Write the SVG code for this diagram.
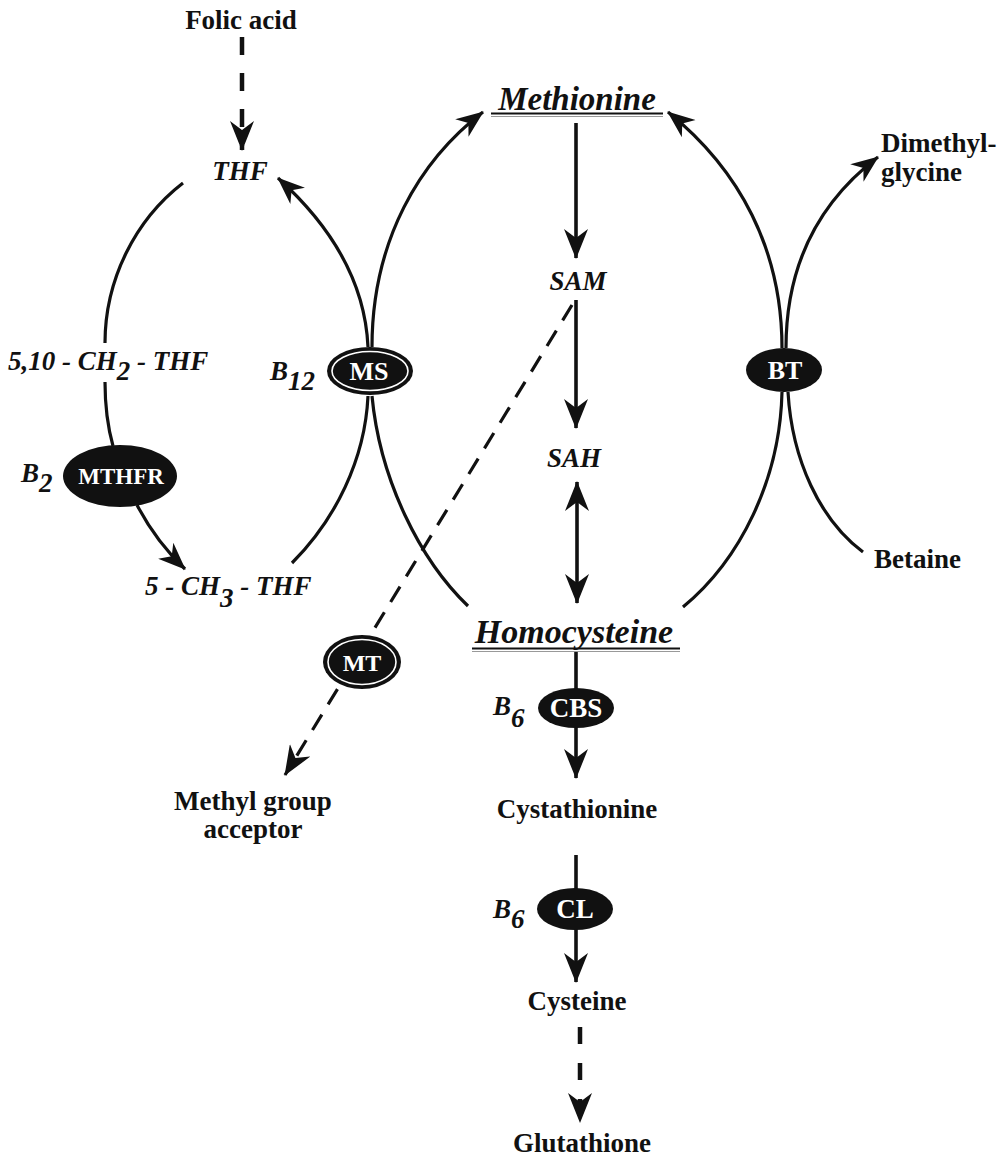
<svg xmlns="http://www.w3.org/2000/svg" width="1004" height="1157" viewBox="0 0 1004 1157">
<defs>
<style>
.t{font-family:"Liberation Serif","Times New Roman",serif;font-weight:bold;fill:#111;font-size:27px}
.i{font-style:italic}
.big{font-size:33px}
.big2{font-size:34px}
.e{font-family:"Liberation Serif","Times New Roman",serif;font-weight:bold;fill:#fff;text-anchor:middle}
.c{fill:none;stroke:#111;stroke-width:3.2}
.v{fill:none;stroke:#111;stroke-width:3.6}
.d{fill:none;stroke:#111;stroke-width:4.5}
.ell{fill:#111}
.ring{fill:none;stroke:#fff;stroke-width:1.6}
</style>
<marker id="ah" viewBox="0 0 30 24" refX="29" refY="12" markerWidth="30" markerHeight="24" markerUnits="userSpaceOnUse" orient="auto-start-reverse">
<path d="M0,0 L30,12 L0,24 L9,12 Z" fill="#111"/>
</marker>
<marker id="ahs" viewBox="0 0 30 24" refX="29" refY="12" markerWidth="28" markerHeight="22" markerUnits="userSpaceOnUse" orient="auto-start-reverse">
<path d="M0,0 L30,12 L0,24 L9,12 Z" fill="#111"/>
</marker>
</defs>
<rect width="1004" height="1157" fill="#fff"/>

<g id="connectors">
<path class="d" d="M242,37 L242,150" stroke-dasharray="18 18" marker-end="url(#ah)"/>
<path class="c" d="M183,183 C135,220 105,280 105,343"/>
<path class="c" d="M105,382 C105,410 108,428 113,446"/>
<path class="c" d="M137,505 C150,530 165,550 185,569" marker-end="url(#ahs)"/>
<path class="c" d="M368,347 C365,280 330,225 278,178" marker-end="url(#ahs)"/>
<path class="c" d="M372,347 C372,240 420,160 483,112" marker-end="url(#ahs)"/>
<path class="c" d="M368,396 C365,460 335,520 292,563"/>
<path class="c" d="M372,396 C380,480 420,560 468,606"/>
<path class="c" d="M782,348 C782,250 740,170 668,112" marker-end="url(#ahs)"/>
<path class="c" d="M786,348 C786,270 815,205 878,157" marker-end="url(#ahs)"/>
<path class="c" d="M782,392 C780,480 740,560 683,607"/>
<path class="c" d="M788,392 C792,460 820,520 863,552"/>
<path class="v" d="M576,123 L576,258" marker-end="url(#ah)"/>
<path class="v" d="M576,300 L576,428" marker-end="url(#ah)"/>
<path class="v" d="M577,482 L577,603" marker-start="url(#ah)" marker-end="url(#ah)"/>
<path class="v" d="M576,652 L576,692"/>
<path class="v" d="M576,724 L576,778" marker-end="url(#ah)"/>
<path class="v" d="M576,855 L576,892"/>
<path class="v" d="M576,926 L576,982" marker-end="url(#ah)"/>
<path class="d" d="M580,1027 L580,1122" stroke-dasharray="17 19" marker-end="url(#ah)"/>
<path class="c" d="M572,305 L285,775" stroke-dasharray="18 12" stroke-width="3.6" marker-end="url(#ah)"/>
</g>

<g id="folic-acid"><text class="t" x="241" y="29" text-anchor="middle">Folic acid</text></g>
<g id="thf"><text class="t i" x="240" y="180" text-anchor="middle">THF</text></g>
<g id="methionine">
<text class="t i big" x="577" y="110" text-anchor="middle">Methionine</text>
<line x1="491" y1="113.5" x2="663" y2="113.5" stroke="#111" stroke-width="2"/>
<line x1="491" y1="116.5" x2="663" y2="116.5" stroke="#999" stroke-width="1"/>
</g>
<g id="sam"><text class="t i" x="578" y="290" text-anchor="middle">SAM</text></g>
<g id="sah"><text class="t i" x="574" y="467" text-anchor="middle">SAH</text></g>
<g id="homocysteine">
<text class="t i big2" x="574" y="643" text-anchor="middle">Homocysteine</text>
<line x1="472" y1="648.5" x2="680" y2="648.5" stroke="#111" stroke-width="2"/>
<line x1="472" y1="651.5" x2="680" y2="651.5" stroke="#999" stroke-width="1"/>
</g>
<g id="dimethylglycine">
<text class="t" x="881" y="152">Dimethyl-</text>
<text class="t" x="881" y="181">glycine</text>
</g>
<g id="betaine"><text class="t" x="874" y="568">Betaine</text></g>
<g id="cystathionine"><text class="t" x="577" y="818" text-anchor="middle">Cystathionine</text></g>
<g id="cysteine"><text class="t" x="577" y="1010" text-anchor="middle">Cysteine</text></g>
<g id="glutathione"><text class="t" x="582" y="1152" text-anchor="middle">Glutathione</text></g>
<g id="methyl-acceptor">
<text class="t" x="253" y="810" text-anchor="middle">Methyl group</text>
<text class="t" x="253" y="838" text-anchor="middle">acceptor</text>
</g>
<g id="ch2-thf"><text class="t i" x="8" y="370">5,10 - CH<tspan dy="10">2</tspan><tspan dy="-10"> - THF</tspan></text></g>
<g id="ch3-thf"><text class="t i" x="145" y="595">5  - CH<tspan dy="12">3</tspan><tspan dy="-12"> - THF</tspan></text></g>

<g id="mthfr">
<ellipse class="ell" cx="120" cy="476" rx="57" ry="31"/>
<text class="e" x="121" y="484" font-size="23">MTHFR</text>
<text class="t i" x="21" y="482">B<tspan dy="10">2</tspan></text>
</g>
<g id="ms">
<ellipse class="ell" cx="370" cy="371" rx="43" ry="24"/>
<ellipse class="ring" cx="370" cy="371" rx="38" ry="19.5"/>
<text class="e" x="369" y="380" font-size="26">MS</text>
<text class="t i" x="270" y="380">B<tspan dy="10">12</tspan></text>
</g>
<g id="mt">
<ellipse class="ell" cx="362" cy="662" rx="39" ry="27"/>
<ellipse class="ring" cx="362" cy="662" rx="34" ry="22.5"/>
<text class="e" x="362" y="671" font-size="24">MT</text>
</g>
<g id="bt">
<ellipse class="ell" cx="784" cy="370" rx="38" ry="22"/>
<text class="e" x="785" y="379" font-size="26">BT</text>
</g>
<g id="cbs">
<ellipse class="ell" cx="576" cy="708" rx="38" ry="20"/>
<text class="e" x="576" y="717" font-size="27">CBS</text>
<text class="t i" x="493" y="715">B<tspan dy="12">6</tspan></text>
</g>
<g id="cl">
<ellipse class="ell" cx="575" cy="909" rx="38" ry="21"/>
<text class="e" x="575" y="918" font-size="27">CL</text>
<text class="t i" x="493" y="918">B<tspan dy="10">6</tspan></text>
</g>
</svg>
